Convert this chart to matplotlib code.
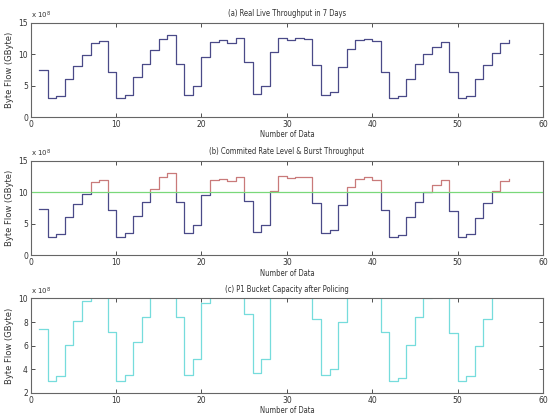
import numpy as np
import matplotlib
matplotlib.use("Agg")
import matplotlib.pyplot as plt
from matplotlib.patches import Rectangle

# ---- data (units of 1e8 GByte) ----
x = list(range(1, 57))
flow = [7.4, 3.0, 3.4, 6.1, 8.1, 9.8, 11.7, 12.0, 7.2, 3.0,
        3.5, 6.3, 8.4, 10.6, 12.4, 13.1, 8.4, 3.5, 4.9, 9.6,
        11.9, 12.2, 11.8, 12.5, 8.7, 3.7, 4.9, 10.3, 12.6, 12.3,
        12.5, 12.4, 8.3, 3.5, 4.0, 8.0, 10.8, 12.2, 12.4, 12.0,
        7.2, 3.0, 3.3, 6.1, 8.4, 10.0, 11.1, 11.9, 7.1, 3.0,
        3.4, 6.0, 8.3, 10.2, 11.8, 12.2]
committed_rate = 10.0
bucket_capacity = 10.0

titles = ["(a) Real Live Throughput in 7 Days",
          "(b) Commited Rate Level & Burst Throughput",
          "(c) P1 Bucket Capacity after Policing"]
xticks = [0, 10, 20, 30, 40, 50, 60]
yticks_ab = [0, 5, 10, 15]
yticks_c = [2, 4, 6, 8, 10]

plt.rcParams['font.family'] = ['DejaVu Sans']
fig = plt.figure(figsize=(5.49, 4.18), dpi=100)

left, width, height = 0.056, 0.933, 0.226
bottoms = [0.72, 0.389, 0.06]
axes = [fig.add_axes([left, b, width, height]) for b in bottoms]

fs = 5.5
navy = '#4a4a88'
for ax, t in zip(axes, titles):
    ax.set_xlim(0, 60)
    ax.set_xticks(xticks)
    ax.tick_params(direction='in', top=True, right=True, labelsize=fs,
                   length=3, width=0.6, pad=2, colors='#333333')
    for s in ax.spines.values():
        s.set_color('#666666')
        s.set_linewidth(0.8)
    ax.set_title(t, fontsize=fs, pad=5, fontstretch='condensed', color='#333333')
    ax.set_xlabel("Number of Data", fontsize=fs, labelpad=1,
                  fontstretch='condensed', color='#333333')
    ax.set_ylabel("Byte Flow (GByte)", fontsize=fs + 0.5, labelpad=3, color='#333333')
    ax.text(0.0, 1.02, r"x 10$^8$", transform=ax.transAxes, fontsize=fs - 0.5,
            va='bottom', ha='left', color='#333333')

# (a)
ax = axes[0]
ax.step(x, flow, where='post', color=navy, lw=0.9)
ax.set_ylim(0, 15)
ax.set_yticks(yticks_ab)

# (b)
ax = axes[1]
ax.set_ylim(0, 15)
ax.set_yticks(yticks_ab)
lo, = ax.step(x, flow, where='post', color=navy, lw=0.9)
hi, = ax.step(x, flow, where='post', color='#c97a7a', lw=0.9)
clip_lo = Rectangle((0, -5), 60, 5 + committed_rate, transform=ax.transData)
clip_hi = Rectangle((0, committed_rate), 60, 10, transform=ax.transData)
lo.set_clip_path(clip_lo)
hi.set_clip_path(clip_hi)
ax.axhline(committed_rate, color='#7ad87a', lw=0.9)

# (c)
ax = axes[2]
ax.step(x, flow, where='post', color='#76dcdc', lw=0.9)
ax.set_ylim(2, bucket_capacity)
ax.set_yticks(yticks_c)

fig.savefig("out.png", dpi=100)
